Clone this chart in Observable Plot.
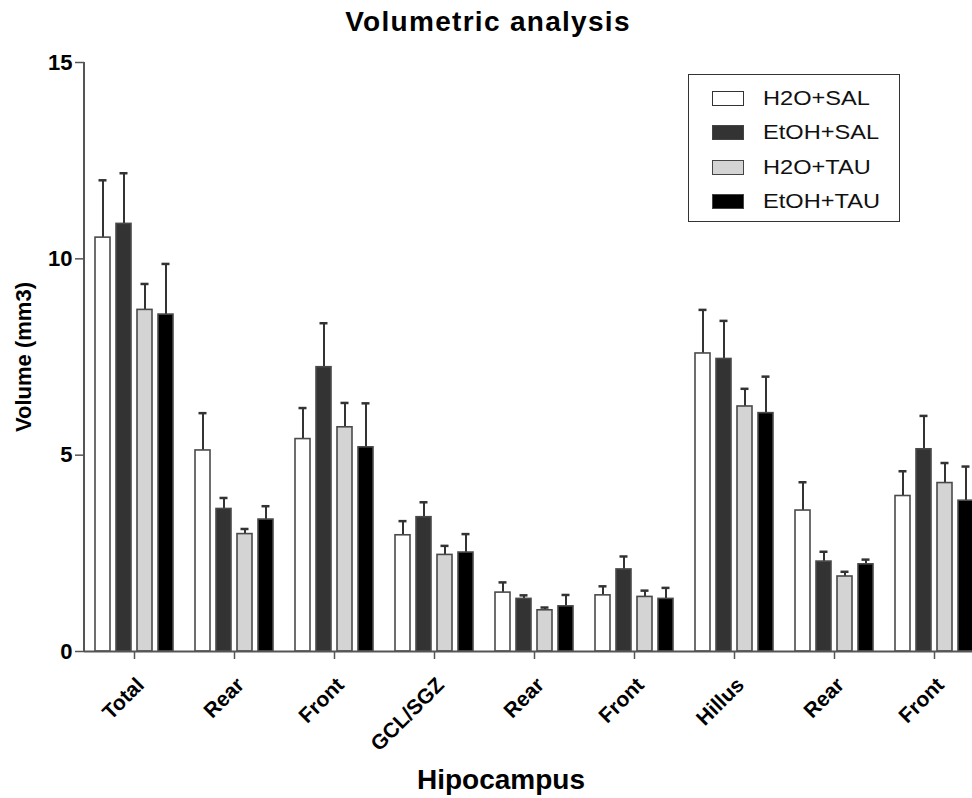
<!DOCTYPE html>
<html>
<head>
<meta charset="utf-8">
<script src="https://cdn.jsdelivr.net/npm/d3@7"></script>
<script src="https://cdn.jsdelivr.net/npm/@observablehq/plot@0.6"></script>
<style>
  html, body { margin: 0; padding: 0; background: #fff; }
  body { width: 972px; height: 798px; position: relative; overflow: hidden; font-family: "Liberation Sans", Arial, sans-serif; }
  #title { height: 50px; line-height: 44px; text-align: center; font-weight: bold; font-size: 28px; letter-spacing: 1.3px; color: #000; width: 976px; }
  #caption { position: absolute; left: 0; width: 1002px; top: 763px; height: 35px; line-height: 34px; text-align: center; font-weight: bold; font-size: 28px; }
  #legend { position: absolute; left: 688px; top: 74px; width: 212px; height: 148px; border: 1.5px solid #333; box-sizing: border-box; background: #fff; }
  .row { position: absolute; left: 23px; height: 24px; display: flex; align-items: center; font-size: 20px; color: #111; }
  .row span { display: inline-block; transform: scaleX(1.18); transform-origin: left center; }
  .sw { width: 32px; height: 15px; box-sizing: border-box; border: 1.5px solid #444; margin-right: 19px; }
</style>
</head>
<body>
<div id="title">Volumetric analysis</div>
<div id="chart"></div>
<div id="caption">Hipocampus</div>
<div id="legend"></div>
<script>
const categories = ["Total", "Rear", "Front", "GCL/SGZ", "Rear", "Front", "Hillus", "Rear", "Front"];
const groups = ["H2O+SAL", "EtOH+SAL", "H2O+TAU", "EtOH+TAU"];
const fills = ["#ffffff", "#333333", "#d4d4d4", "#000000"];
const yTicks = [0, 5, 10, 15];

const meanH2OSAL  = [10.54, 5.12, 5.41, 2.96, 1.50, 1.43, 7.59, 3.59, 3.96];
const meanEtOHSAL = [10.89, 3.63, 7.24, 3.42, 1.34, 2.09, 7.45, 2.29, 5.15];
const meanH2OTAU  = [8.70, 2.99, 5.71, 2.46, 1.05, 1.39, 6.24, 1.91, 4.29];
const meanEtOHTAU = [8.58, 3.36, 5.20, 2.52, 1.15, 1.34, 6.07, 2.22, 3.84];

const errH2OSAL  = [1.46, 0.95, 0.79, 0.36, 0.26, 0.23, 1.11, 0.72, 0.63];
const errEtOHSAL = [1.29, 0.28, 1.12, 0.38, 0.09, 0.33, 0.97, 0.25, 0.85];
const errH2OTAU  = [0.66, 0.13, 0.62, 0.23, 0.07, 0.16, 0.45, 0.12, 0.51];
const errEtOHTAU = [1.29, 0.34, 1.12, 0.47, 0.29, 0.28, 0.93, 0.12, 0.87];

const means = [meanH2OSAL, meanEtOHSAL, meanH2OTAU, meanEtOHTAU];
const errs = [errH2OSAL, errEtOHSAL, errH2OTAU, errEtOHTAU];
const ids = categories.map((c, i) => i);

const data = [];
categories.forEach((c, i) => {
  groups.forEach((g, j) => {
    data.push({cat: i, group: g, mean: means[j][i], top: means[j][i] + errs[j][i]});
  });
});

const chart = Plot.plot({
  width: 972,
  height: 711,
  marginTop: 12,
  marginBottom: 110,
  marginLeft: 84,
  marginRight: -12,
  style: {fontFamily: "'Liberation Sans', Arial, sans-serif", fontWeight: "bold", color: "#000", overflow: "visible"},
  fx: {domain: ids, padding: 0},
  x: {domain: groups, paddingInner: 0.3, paddingOuter: 0.483},
  y: {domain: [0, 15]},
  color: {domain: groups, range: fills},
  marks: [
    Plot.ruleX(data, {fx: "cat", x: "group", y1: "mean", y2: "top", stroke: "#333", strokeWidth: 2}),
    Plot.tickY(data, {fx: "cat", x: "group", y: "top", stroke: "#333", strokeWidth: 2.5, insetLeft: 3.5, insetRight: 3.5}),
    Plot.barY(data, {fx: "cat", x: "group", y1: 0, y2: "mean", fill: "group", stroke: "#4a4a4a", strokeWidth: 1.6}),
    Plot.ruleY([0], {stroke: "#555", strokeWidth: 2}),
    Plot.axisY({ticks: yTicks, tickSize: 9, tickPadding: 3, fontSize: 22, stroke: "#555", strokeWidth: 1.5,
      label: "Volume (mm3)", labelAnchor: "center", labelOffset: 69, labelArrow: false}),
    Plot.axisX({ticks: [], label: null}),
    Plot.axisFx({anchor: "bottom", tickSize: 8, stroke: "#555", strokeWidth: 1.5, label: null, tickFormat: () => ""}),
    Plot.axisFx({anchor: "bottom", tickRotate: -45, tickSize: 0, tickPadding: 30, fontSize: 21, dx: 6,
      label: null, tickFormat: i => categories[i]})
  ]
});
document.getElementById("chart").appendChild(chart);

// y-axis domain line, positioned from Plot's own scales
const fxs = chart.scale("fx");
const ys = chart.scale("y");
d3.select(chart).append("line")
  .attr("x1", fxs.range[0]).attr("x2", fxs.range[0])
  .attr("y1", ys.apply(0)).attr("y2", ys.apply(15))
  .attr("stroke", "#555").attr("stroke-width", 2);

// legend
const legend = document.getElementById("legend");
const rowTops = [11, 45, 80, 114];
groups.forEach((g, j) => {
  const row = document.createElement("div");
  row.className = "row";
  row.style.top = rowTops[j] + "px";
  const sw = document.createElement("div");
  sw.className = "sw";
  sw.style.background = fills[j];
  if (j === 0) sw.style.borderColor = "#333";
  row.appendChild(sw);
  const t = document.createElement("span");
  t.textContent = g;
  row.appendChild(t);
  legend.appendChild(row);
});
</script>
</body>
</html>
